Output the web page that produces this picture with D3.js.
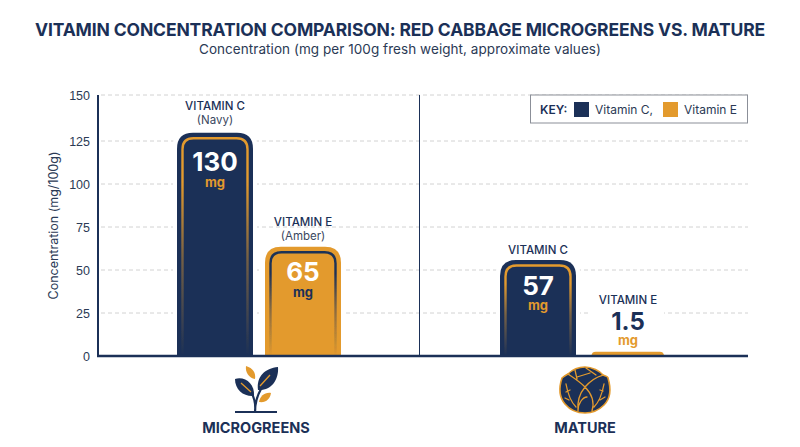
<!DOCTYPE html>
<html>
<head>
<meta charset="utf-8">
<script src="https://cdn.jsdelivr.net/npm/d3@7"></script>
<style>
  html, body { margin: 0; background: #fff; }
  svg { display: block; font-family: Inter, "Open Sans", sans-serif; }
  .grid line { stroke: #d2d2d2; stroke-dasharray: 4 3; }
  .yaxis text { font-size: 12.5px; fill: #2b3a55; }
</style>
</head>
<body>
<svg id="chart" width="800" height="447"></svg>
<script>
const navy = "#1b3057";
const amber = "#e39a2d";

const groups = ["MICROGREENS", "MATURE"];
const series = ["VITAMIN C", "VITAMIN E"];
const colorNames = ["(Navy)", "(Amber)"];
const yTicks = [0, 25, 50, 75, 100, 125, 150];

// printed on the bars
const labelValues = [["130", "65"], ["57", "1.5"]];
// bar tops as read against the axis (they sit a little under the printed values)
const barHeights = [[129.5, 63.5], [55.8, 2.5]];

const svg = d3.select("#chart");

// the top interval of the original axis is a bit taller than the others
const y = d3.scaleLinear().domain([0, 125, 150]).range([356, 141, 95]);
const x0 = d3.scaleBand().domain(groups).range([97.5, 743.5]);
const x1 = d3.scaleBand().domain(series).range([0, 164]).paddingInner(12 / 88);
const color = d3.scaleOrdinal().domain(series).range([navy, amber]);
const trim = d3.scaleOrdinal().domain(series).range([amber, navy]);

// titles
function fitText(sel, width) {
  // stretch the letter spacing so the line takes the same width as the original
  const n = sel.text().length;
  const w = sel.node().getComputedTextLength();
  sel.style("letter-spacing", `${(width - w) / n}px`);
}

svg.append("text").attr("x", 400).attr("y", 36).attr("text-anchor", "middle")
  .attr("font-size", 17.5).attr("font-weight", 700).attr("fill", navy)
  .text("VITAMIN CONCENTRATION COMPARISON: RED CABBAGE MICROGREENS VS. MATURE")
  .call(fitText, 730);

svg.append("text").attr("x", 400).attr("y", 54).attr("text-anchor", "middle")
  .attr("font-size", 13.5).attr("fill", "#2b3a55")
  .text("Concentration (mg per 100g fresh weight, approximate values)")
  .call(fitText, 402);

// gradients for the inner trim, fading towards the baseline
const defs = svg.append("defs");
series.forEach((s, i) => {
  const g = defs.append("linearGradient").attr("id", `trim${i}`)
    .attr("gradientUnits", "objectBoundingBox").attr("x1", 0).attr("y1", 0).attr("x2", 0).attr("y2", 1);
  [[0, 1], [0.2, 1], [0.55, 0.45], [1, 0]].forEach(([offset, opacity]) => {
    g.append("stop").attr("offset", offset).attr("stop-color", trim(s)).attr("stop-opacity", opacity);
  });
});
defs.append("filter").attr("id", "soft").attr("x", "-10%").attr("y", "-10%").attr("width", "120%").attr("height", "120%")
  .append("feGaussianBlur").attr("stdDeviation", 0.6);

// grid
svg.append("g").attr("class", "grid")
  .selectAll("line").data(yTicks.filter((d) => d > 0)).join("line")
  .attr("x1", 101).attr("x2", 748)
  .attr("y1", (d) => y(d)).attr("y2", (d) => y(d));

// y axis
const yAxis = svg.append("g").attr("class", "yaxis").attr("transform", "translate(98,0)")
  .call(d3.axisLeft(y).tickValues(yTicks).tickSize(0).tickPadding(8));
yAxis.select(".domain").remove();

svg.append("line").attr("x1", 98).attr("x2", 98).attr("y1", y(150)).attr("y2", y(0))
  .attr("stroke", navy).attr("stroke-width", 2);

svg.append("text").attr("transform", "translate(58,225.5) rotate(-90)")
  .attr("text-anchor", "middle").attr("font-size", 12.5).attr("fill", "#2b3a55")
  .text("Concentration (mg/100g)");

// divider between the two groups
svg.append("line").attr("x1", 419.5).attr("x2", 419.5).attr("y1", y(150)).attr("y2", y(0))
  .attr("stroke", navy).attr("stroke-width", 1);

// rounded-top outline, open at the bottom
function topRounded(px, py, w, h, r) {
  const rr = Math.min(r, h);
  return `M${px},${py + h}V${py + rr}Q${px},${py} ${px + rr},${py}H${px + w - rr}Q${px + w},${py} ${px + w},${py + rr}V${py + h}`;
}

function label(g, text, px, py, size, weight, fill) {
  return g.append("text").attr("x", px).attr("y", py).attr("text-anchor", "middle")
    .attr("dominant-baseline", "central").attr("font-size", size).attr("font-weight", weight)
    .attr("fill", fill).text(text);
}

groups.forEach((group, gi) => {
  const g = svg.append("g").attr("transform", `translate(${x0(group) + (x0.bandwidth() - 164) / 2},0)`);
  series.forEach((s, si) => {
    const bx = x1(s);
    const bw = x1.bandwidth();
    const top = y(barHeights[gi][si]);
    const h = y(0) - top;
    const cx = bx + bw / 2;
    const tiny = h < 20;

    // white halo that breaks the grid lines around the bar
    g.append("path").attr("d", topRounded(bx - 4, top - 4, bw + 8, h + 4, 16)).attr("fill", "#fff");
    if (tiny) g.append("rect").attr("x", bx).attr("y", top - 60).attr("width", bw).attr("height", 58).attr("fill", "#fff");

    if (tiny) {
      g.append("path").attr("d", topRounded(bx + 3.5, top, bw - 3.5, h, 5)).attr("fill", color(s));
    } else {
      g.append("path").attr("d", topRounded(bx, top, bw, h, 16)).attr("fill", color(s));
      g.append("path").attr("d", topRounded(bx + 5.5, top + 5.5, bw - 11, h - 5.5, 11))
        .attr("fill", "none").attr("stroke", `url(#trim${si})`).attr("stroke-width", 2.4).attr("filter", "url(#soft)");
    }

    // text above the bar, value inside it unless the bar is too short
    const isTall = gi === 0 && si === 0;
    if (tiny) {
      label(g, s, cx + 2, top - 52, 11.5, 500, navy);
      label(g, labelValues[gi][si], cx + 2, top - 30, 24, 700, navy);
      label(g, "mg", cx + 2, top - 12, 13, 700, amber);
    } else {
      const inset = isTall ? 29 : 25;
      label(g, labelValues[gi][si], cx, top + inset, 26, 700, "#fff");
      label(g, "mg", cx, top + inset + 20, 13, 700, si === 0 ? amber : navy);
      if (gi === 0) {
        label(g, s, cx, top - (isTall ? 27 : 25), 11.5, 500, navy);
        label(g, colorNames[si], cx, top - (isTall ? 12.5 : 11), 11.5, 400, "#3a4760");
      } else {
        label(g, s, cx, top - 10, 11.5, 500, navy);
      }
    }
  });
});

// baseline
svg.append("line").attr("x1", 97).attr("x2", 748).attr("y1", y(0)).attr("y2", y(0))
  .attr("stroke", navy).attr("stroke-width", 2.5);

// legend
const key = svg.append("g");
key.append("rect").attr("x", 530.5).attr("y", 95).attr("width", 217).attr("height", 28)
  .attr("fill", "#fff").attr("stroke", "#8b8f98").attr("stroke-width", 1);
key.append("text").attr("x", 540).attr("y", 114).attr("font-size", 12).attr("font-weight", 600).attr("fill", navy).text("KEY:");
[["Vitamin C,", 574], ["Vitamin E", 663]].forEach(([name, kx], i) => {
  key.append("rect").attr("x", kx).attr("y", 102).attr("width", 15).attr("height", 15).attr("fill", color(series[i]));
  key.append("text").attr("x", kx + 21).attr("y", 114).attr("font-size", 12).attr("fill", "#2b3a55").text(name);
});

// group names
groups.forEach((group, i) => {
  svg.append("text").attr("x", i === 0 ? 256 : 585).attr("y", 433).attr("text-anchor", "middle")
    .attr("font-size", 14.5).attr("font-weight", 700).attr("fill", navy).text(group);
});

// seedling icon
const sprout = svg.append("g");
sprout.append("path").attr("d", "M235,412H277").attr("stroke", navy).attr("stroke-width", 2).attr("fill", "none");
sprout.append("path").attr("d", "M255,412C256,403 254,397 251,392M255,412C255,402 257,396 261,389")
  .attr("stroke", navy).attr("stroke-width", 2.2).attr("fill", "none");
sprout.append("path").attr("d", "M235,379C245,376 255,384 254,396C244,397 235,390 235,379Z").attr("fill", navy);
sprout.append("path").attr("d", "M278,367C279,380 271,391 258,390C256,377 265,368 278,367Z").attr("fill", navy);
sprout.append("path").attr("d", "M246,366C253,368 256,373 255,379C249,378 245,372 246,366Z").attr("fill", amber);
sprout.append("path").attr("d", "M271,393C270,399 266,403 259,402C260,396 265,392 271,393Z").attr("fill", amber);
sprout.append("path").attr("d", "M241,383L251,392M270,375L260,386").attr("stroke", amber).attr("stroke-width", 1.3).attr("fill", "none");

// cabbage icon
const cabbage = svg.append("g");
cabbage.append("path")
  .attr("d", "M585,367C592,367 600,371 603,375C606,376 608,377 608,378C611,388 611,398 604,405C598,411 590,413 585,413C578,413 570,410 565,404C559,397 559,387 562,378C564,376 566,375 568,374C572,370 578,367 585,367Z")
  .attr("fill", navy).attr("stroke", amber).attr("stroke-width", 1.6);
cabbage.append("path")
  .attr("d", "M568,374C574,378 579,381 585,387C590,381 596,377 603,375"
    + "M585,387C580,393 577,401 578,411M585,387C591,393 595,401 592,411"
    + "M578,411C578,403 583,397 587,397"
    + "M566,384C568,395 571,402 576,407M566,392L570,390M569,400L565,398"
    + "M604,384C602,395 599,402 594,407M603,391L600,390M600,400L605,397"
    + "M575,370L577,379M577,377L590,373M586,368L596,375")
  .attr("stroke", amber).attr("stroke-width", 1.3).attr("fill", "none").attr("stroke-linecap", "round");
</script>
</body>
</html>
